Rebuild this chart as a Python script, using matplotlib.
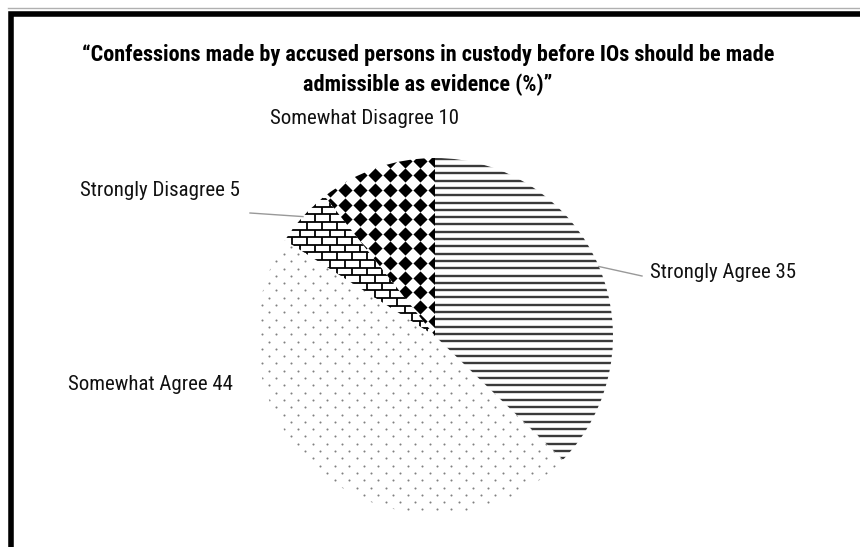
import numpy as np
import matplotlib
matplotlib.use("Agg")
import matplotlib.pyplot as plt
from matplotlib.collections import LineCollection
from matplotlib.patches import Rectangle

plt.rcParams['font.family'] = ['Roboto Condensed', 'DejaVu Sans']

# Survey responses (%), drawn clockwise from 12 o'clock
labels = ["Strongly Agree", "Somewhat Agree", "Strongly Disagree", "Somewhat Disagree"]
values = [35, 44, 5, 10]
title = ("\u201cConfessions made by accused persons in custody before IOs should be made\n"
         "admissible as evidence (%)\u201d")

W, H = 860, 547
fig = plt.figure(figsize=(W / 100, H / 100), dpi=100)
ax = fig.add_axes([0, 0, 1, 1])

# frame around the panel (right and bottom edges run off the image)
ax.plot([8, W], [H - 7.5, H - 7.5], color='#b0b0b0', lw=1.0)
fig.patches.append(Rectangle((10.5 / W, -0.2), 1.2, (H - 13.5) / H + 0.2,
                             transform=fig.transFigure, fill=False,
                             edgecolor='black', lw=4.0))

cx, cy, r = 435, H - 336, 178
wedges, _ = ax.pie(values, startangle=90, counterclock=False, center=(cx, cy),
                   radius=r, colors=['white'] * 4,
                   wedgeprops=dict(edgecolor='none', linewidth=0))
ax.set_xlim(0, W)
ax.set_ylim(0, H)
ax.set_aspect('equal')
ax.axis('off')

x0, x1 = cx - r - 10, cx + r + 10
y0, y1 = cy - r - 10, cy + r + 10

# Strongly Agree: dense horizontal lines
ys = np.concatenate([np.arange(cy + 2 - 7.3, y0, -7.3), np.arange(cy + 2, y1, 7.3)])
lc = LineCollection([[(x0, y), (x1, y)] for y in ys], colors='#3a3a3a', linewidths=1.7)
ax.add_collection(lc)
lc.set_clip_path(wedges[0])

# Somewhat Agree: sparse staggered dots
pts = []
for i, y in enumerate(np.arange(y0, y1, 7.3)):
    off = 0 if i % 2 == 0 else 7.3
    for x in np.arange(x0 + off, x1, 14.6):
        pts.append((x, y))
pts = np.array(pts)
sc = ax.scatter(pts[:, 0], pts[:, 1], s=2.2, color='#808080', linewidths=0)
sc.set_clip_path(wedges[1])

# Strongly Disagree: brick pattern
segs = []
bh, bw = 7.6, 15.0
for i, y in enumerate(np.arange(cy, y1, bh)):
    segs.append([(x0, y), (x1, y)])
    off = 0 if i % 2 == 0 else bw / 2
    for x in np.arange(x0 + off, x1, bw):
        segs.append([(x, y), (x, y + bh)])
lc2 = LineCollection(segs, colors='black', linewidths=1.3)
ax.add_collection(lc2)
lc2.set_clip_path(wedges[2])

# Somewhat Disagree: black diamonds
gx = np.arange(cx - 15 * 14, cx + 15, 15.0)
gy = np.arange(cy, y1, 14.6)
GX, GY = np.meshgrid(gx, gy)
dm = ax.scatter(GX.ravel(), GY.ravel(), s=52, marker='D', color='black', linewidths=0)
dm.set_clip_path(wedges[3])

# slice labels
label_pos = {
    "Strongly Agree": (650, H - 273),
    "Somewhat Agree": (68, H - 385),
    "Strongly Disagree": (80, H - 190),
    "Somewhat Disagree": (270, H - 118),
}
leaders = {"Strongly Agree": (642, H - 276), "Strongly Disagree": (250, H - 213)}
start = 90.0
total = sum(values)
for w, lab, val in zip(wedges, labels, values):
    span = 360.0 * val / total
    mid = np.deg2rad(start - span / 2)
    start -= span
    tx, ty = label_pos[lab]
    ax.text(tx, ty, f"{lab} {val}", fontsize=15, ha='left', va='center', color='#111111')
    if lab in leaders:
        ex, ey = cx + r * np.cos(mid), cy + r * np.sin(mid)
        lx, ly = leaders[lab]
        ax.plot([ex, lx], [ey, ly], color='#999999', lw=1.0)

ax.text(W / 2 - 2, H - 70, title, fontsize=16, fontweight='bold', ha='center', va='center',
        linespacing=1.45, color='black')

fig.savefig("out.png", dpi=100)
